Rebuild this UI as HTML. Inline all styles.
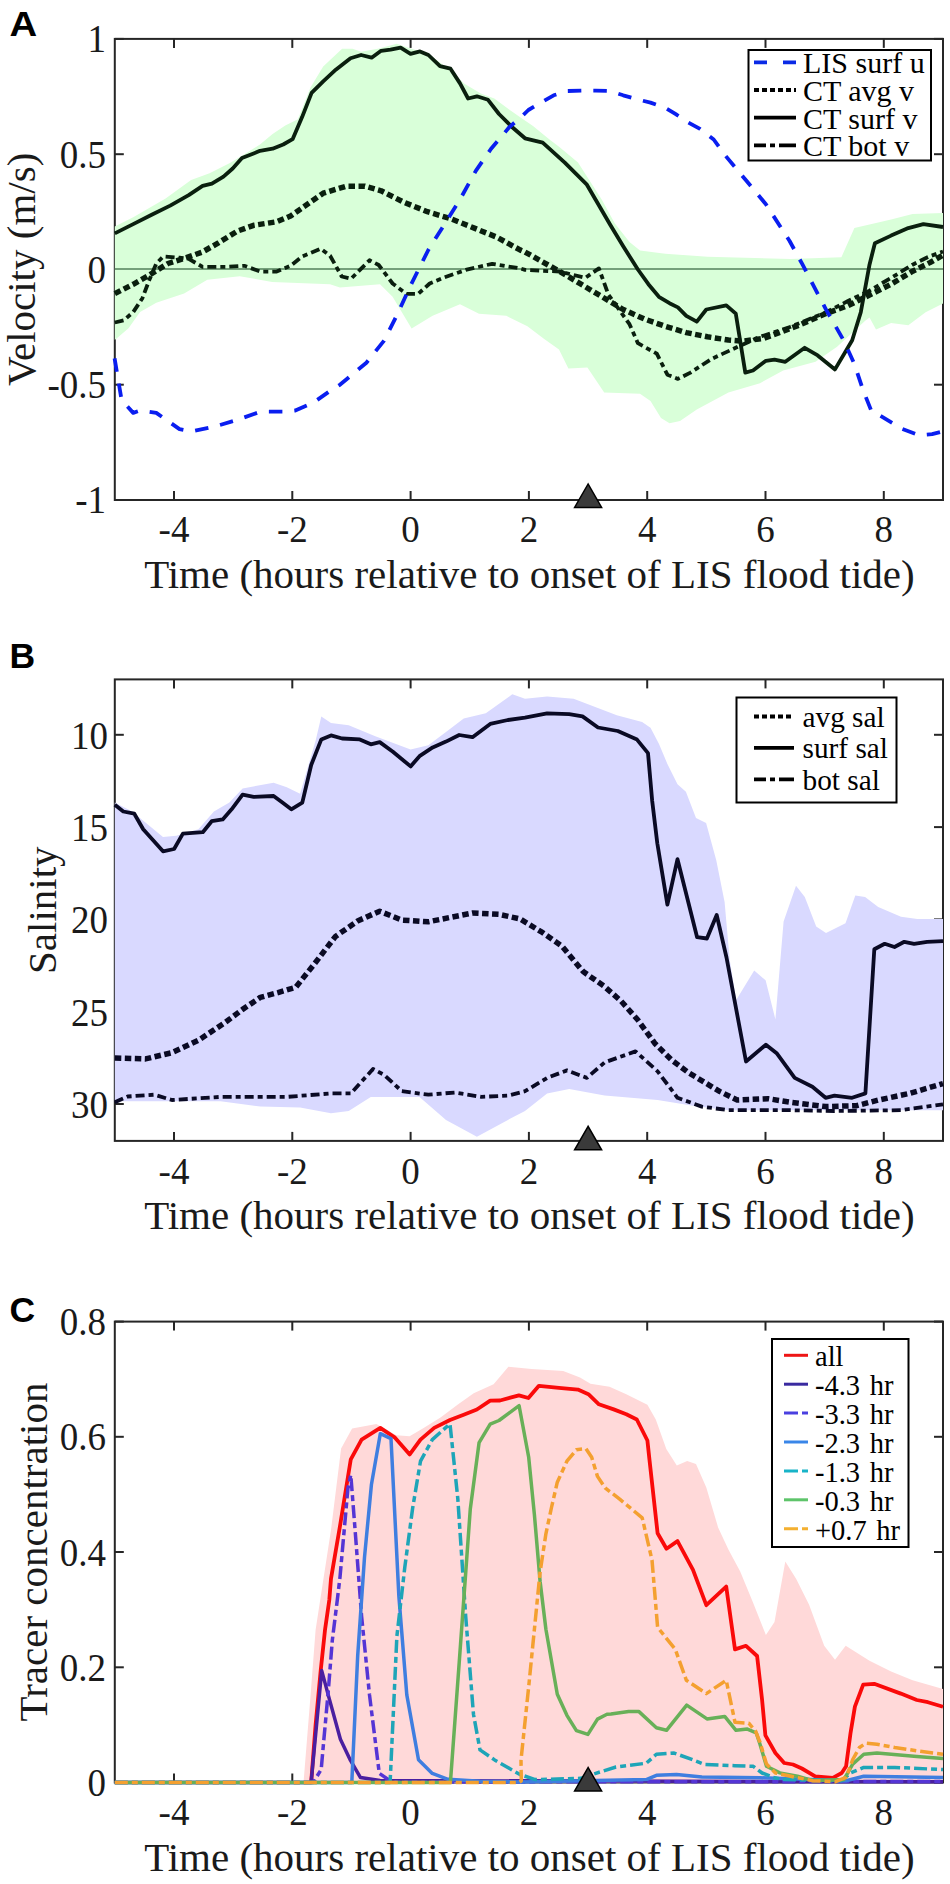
<!DOCTYPE html>
<html><head><meta charset="utf-8"><style>
html,body{margin:0;padding:0;background:#fff;width:950px;height:1884px;overflow:hidden}
svg{display:block}
</style></head><body>
<svg width="950" height="1884" viewBox="0 0 950 1884">
<rect width="950" height="1884" fill="#fff"/>
<line x1="174.0" y1="500.0" x2="174.0" y2="491.0" stroke="#262626" stroke-width="2"/>
<line x1="174.0" y1="38.9" x2="174.0" y2="47.9" stroke="#262626" stroke-width="2"/>
<text transform="translate(174.0,542.1) scale(1,1.04)" x="0" y="0" font-family='"Liberation Serif", serif' font-size="37" text-anchor="middle" fill="#1a1a1a">-4</text>
<line x1="292.3" y1="500.0" x2="292.3" y2="491.0" stroke="#262626" stroke-width="2"/>
<line x1="292.3" y1="38.9" x2="292.3" y2="47.9" stroke="#262626" stroke-width="2"/>
<text transform="translate(292.3,542.1) scale(1,1.04)" x="0" y="0" font-family='"Liberation Serif", serif' font-size="37" text-anchor="middle" fill="#1a1a1a">-2</text>
<line x1="410.6" y1="500.0" x2="410.6" y2="491.0" stroke="#262626" stroke-width="2"/>
<line x1="410.6" y1="38.9" x2="410.6" y2="47.9" stroke="#262626" stroke-width="2"/>
<text transform="translate(410.6,542.1) scale(1,1.04)" x="0" y="0" font-family='"Liberation Serif", serif' font-size="37" text-anchor="middle" fill="#1a1a1a">0</text>
<line x1="528.9" y1="500.0" x2="528.9" y2="491.0" stroke="#262626" stroke-width="2"/>
<line x1="528.9" y1="38.9" x2="528.9" y2="47.9" stroke="#262626" stroke-width="2"/>
<text transform="translate(528.9,542.1) scale(1,1.04)" x="0" y="0" font-family='"Liberation Serif", serif' font-size="37" text-anchor="middle" fill="#1a1a1a">2</text>
<line x1="647.2" y1="500.0" x2="647.2" y2="491.0" stroke="#262626" stroke-width="2"/>
<line x1="647.2" y1="38.9" x2="647.2" y2="47.9" stroke="#262626" stroke-width="2"/>
<text transform="translate(647.2,542.1) scale(1,1.04)" x="0" y="0" font-family='"Liberation Serif", serif' font-size="37" text-anchor="middle" fill="#1a1a1a">4</text>
<line x1="765.5" y1="500.0" x2="765.5" y2="491.0" stroke="#262626" stroke-width="2"/>
<line x1="765.5" y1="38.9" x2="765.5" y2="47.9" stroke="#262626" stroke-width="2"/>
<text transform="translate(765.5,542.1) scale(1,1.04)" x="0" y="0" font-family='"Liberation Serif", serif' font-size="37" text-anchor="middle" fill="#1a1a1a">6</text>
<line x1="883.8" y1="500.0" x2="883.8" y2="491.0" stroke="#262626" stroke-width="2"/>
<line x1="883.8" y1="38.9" x2="883.8" y2="47.9" stroke="#262626" stroke-width="2"/>
<text transform="translate(883.8,542.1) scale(1,1.04)" x="0" y="0" font-family='"Liberation Serif", serif' font-size="37" text-anchor="middle" fill="#1a1a1a">8</text>
<line x1="114.8" y1="38.9" x2="123.8" y2="38.9" stroke="#262626" stroke-width="2"/>
<line x1="943.0" y1="38.9" x2="934.0" y2="38.9" stroke="#262626" stroke-width="2"/>
<text transform="translate(106,52.3) scale(1,1.06)" x="0" y="0" font-family='"Liberation Serif", serif' font-size="37" text-anchor="end" fill="#1a1a1a">1</text>
<line x1="114.8" y1="154.2" x2="123.8" y2="154.2" stroke="#262626" stroke-width="2"/>
<line x1="943.0" y1="154.2" x2="934.0" y2="154.2" stroke="#262626" stroke-width="2"/>
<text transform="translate(106,167.6) scale(1,1.06)" x="0" y="0" font-family='"Liberation Serif", serif' font-size="37" text-anchor="end" fill="#1a1a1a">0.5</text>
<line x1="114.8" y1="269.4" x2="123.8" y2="269.4" stroke="#262626" stroke-width="2"/>
<line x1="943.0" y1="269.4" x2="934.0" y2="269.4" stroke="#262626" stroke-width="2"/>
<text transform="translate(106,282.8) scale(1,1.06)" x="0" y="0" font-family='"Liberation Serif", serif' font-size="37" text-anchor="end" fill="#1a1a1a">0</text>
<line x1="114.8" y1="384.7" x2="123.8" y2="384.7" stroke="#262626" stroke-width="2"/>
<line x1="943.0" y1="384.7" x2="934.0" y2="384.7" stroke="#262626" stroke-width="2"/>
<text transform="translate(106,398.1) scale(1,1.06)" x="0" y="0" font-family='"Liberation Serif", serif' font-size="37" text-anchor="end" fill="#1a1a1a">-0.5</text>
<line x1="114.8" y1="500.0" x2="123.8" y2="500.0" stroke="#262626" stroke-width="2"/>
<line x1="943.0" y1="500.0" x2="934.0" y2="500.0" stroke="#262626" stroke-width="2"/>
<text transform="translate(106,513.4) scale(1,1.06)" x="0" y="0" font-family='"Liberation Serif", serif' font-size="37" text-anchor="end" fill="#1a1a1a">-1</text>
<rect x="114.8" y="38.9" width="828.2" height="461.1" fill="none" stroke="#262626" stroke-width="2"/>
<text x="529.4" y="588" font-family='"Liberation Serif", serif' font-size="41" text-anchor="middle" fill="#1a1a1a">Time (hours relative to onset of LIS flood tide)</text>
<text transform="translate(35,269.4) rotate(-90)" x="0" y="0" font-family='"Liberation Serif", serif' font-size="41" text-anchor="middle" fill="#1a1a1a">Velocity (m/s)</text>
<text transform="translate(9.6,36.3) scale(1.08,1)" x="0" y="0" font-family='"Liberation Sans", sans-serif' font-weight="700" font-size="35.5" fill="#000">A</text>
<polygon points="114.8,226.4 133.2,217.2 165.6,198.6 191.1,180.1 209.6,173.2 230.4,162.7 242.0,155.8 260.0,144.5 272.6,134.0 285.3,125.5 297.9,119.2 310.5,87.6 323.2,66.6 342.1,48.7 352.6,48.7 361.1,51.8 377.9,48.7 396.8,43.8 407.4,47.6 428.4,54.0 445.3,66.6 460.0,79.2 464.0,83.4 480.8,93.5 494.3,98.5 507.8,108.6 521.3,118.0 533.0,126.0 549.5,139.5 560.0,147.4 578.0,162.6 602.0,200.0 614.7,223.2 629.5,242.1 640.0,250.5 665.3,253.7 707.4,256.8 790.3,259.0 841.4,257.2 854.4,228.1 891.1,219.4 912.6,214.0 943.0,213.0 943.0,303.6 925.6,312.2 908.3,325.2 891.1,323.0 876.0,329.5 869.5,317.6 865.2,320.8 837.1,346.7 815.5,361.8 783.2,370.5 760.0,383.2 728.4,392.6 696.8,409.5 680.0,421.0 669.5,423.2 661.0,417.9 650.5,401.1 640.0,393.7 604.2,392.6 587.4,367.4 568.4,368.4 559.0,349.5 544.2,339.0 527.4,326.3 506.3,315.8 479.0,313.7 460.0,304.2 432.6,315.8 411.6,328.4 392.6,296.8 380.0,284.2 339.9,287.6 330.0,284.3 272.1,282.0 239.7,276.2 207.3,279.7 184.1,293.6 156.3,302.8 140.1,312.1 128.5,328.3 114.8,339.9" fill="#d9ffd9" stroke="none"/>
<line x1="114.8" y1="269" x2="943.0" y2="269" stroke="#52805a" stroke-width="1.5"/>
<polyline points="114.8,322.5 123.9,320.2 133.2,312.1 142.4,298.2 149.4,279.7 156.3,263.5 163.3,256.5 179.5,257.7 188.7,258.8 202.6,266.9 225.8,266.9 244.3,265.8 260.5,271.6 276.7,271.6 290.6,265.8 302.2,256.5 320.8,248.7 330.1,255.7 341.7,276.5 351.0,278.8 369.5,260.3 378.7,265.0 392.6,283.5 406.5,293.9 418.1,293.9 429.7,283.5 443.6,277.7 466.7,269.6 492.2,263.8 520.0,268.4 525.0,269.9 560.0,271.6 572.6,274.7 585.3,277.9 598.9,268.4 608.4,294.7 619.0,309.5 629.5,324.2 637.9,343.2 656.8,353.7 667.4,374.7 677.9,378.9 690.5,372.6 711.6,358.9 741.1,345.3 760.0,336.8 790.0,327.0 826.3,312.2 848.0,301.0 869.5,290.6 891.0,278.0 912.6,264.7 928.0,257.0 943.0,251.5" fill="none" stroke="#0a1f0e" stroke-width="3.8" stroke-linejoin="round" stroke-linecap="butt" stroke-dasharray="9,4,5,4"/>
<polyline points="114.8,293.6 133.2,284.3 149.4,275.1 167.9,263.5 186.4,257.7 202.6,251.9 218.8,242.6 237.4,231.1 253.6,225.3 276.7,221.8 290.6,216.0 300.0,209.4 323.2,193.2 346.3,186.2 364.8,186.2 381.1,190.8 404.2,202.4 427.4,211.7 450.5,218.6 473.7,227.9 496.9,237.2 520.0,249.9 525.0,252.0 560.0,271.6 581.0,284.2 602.1,296.8 623.2,309.5 644.2,318.9 665.3,326.3 686.3,332.6 707.4,336.8 728.4,340.0 743.2,341.1 763.7,338.4 799.1,325.2 826.0,313.5 847.9,305.7 869.5,295.0 891.1,284.2 912.6,271.2 929.9,262.6 943.0,255.0" fill="none" stroke="#0a1f0e" stroke-width="5.5" stroke-linejoin="round" stroke-linecap="butt" stroke-dasharray="6.5,3.5"/>
<polyline points="114.8,233.4 133.2,224.1 151.7,214.8 170.2,205.6 188.7,195.2 202.6,185.9 211.9,183.6 223.5,176.6 232.7,168.5 242.0,158.1 253.6,153.5 260.0,150.8 272.6,148.7 283.2,144.5 292.6,139.2 302.1,117.1 311.6,92.9 323.2,81.3 335.8,69.7 350.5,58.2 361.1,55.0 371.6,57.7 381.1,50.8 390.5,49.7 400.6,47.6 410.5,53.9 420.0,51.4 428.4,55.0 440.0,66.2 450.5,68.7 460.0,83.4 468.1,98.5 476.9,96.3 488.0,99.8 499.0,114.0 512.3,127.3 525.0,138.3 542.7,142.7 564.8,162.6 586.9,184.7 595.8,200.0 610.5,225.3 623.2,246.3 637.9,269.5 648.4,284.2 658.9,296.8 669.5,303.2 677.9,307.4 686.3,315.8 696.8,321.7 706.3,309.5 726.3,305.3 735.8,313.7 745.3,372.6 753.0,370.5 765.9,360.8 774.5,359.7 785.3,361.8 804.7,347.8 817.7,355.4 835.0,369.4 852.2,340.3 860.8,312.2 869.5,264.7 874.9,243.2 891.1,235.6 908.3,228.1 923.4,224.2 943.0,227.0" fill="none" stroke="#0a1f0e" stroke-width="3.8" stroke-linejoin="round" stroke-linecap="butt"/>
<polyline points="114.6,358.4 121.6,400.1 133.2,412.9 140.1,410.5 156.3,412.9 167.9,421.0 179.5,429.1 191.1,431.4 214.2,426.7 237.4,419.8 260.5,411.7 283.7,411.7 295.3,410.5 313.8,402.4 330.0,390.9 339.9,384.8 366.4,362.7 384.1,340.6 397.4,314.1 410.6,285.4 428.3,250.0 444.0,225.0 459.8,199.9 475.8,170.9 490.9,149.0 509.4,127.1 521.2,117.0 528.4,110.0 541.0,102.6 553.7,95.3 567.4,91.0 582.1,90.6 595.8,90.6 609.5,91.0 623.2,95.3 637.9,99.5 650.5,102.6 665.3,107.9 675.8,114.2 688.4,122.6 700.0,128.9 713.7,139.5 723.9,153.8 746.0,180.3 765.9,204.3 789.6,241.0 802.6,264.7 826.3,310.1 843.6,340.3 854.4,364.0 863.0,389.9 871.6,411.5 880.3,415.8 901.8,428.7 919.1,435.2 932.1,434.1 943.0,431.3" fill="none" stroke="#0a1ef0" stroke-width="3.8" stroke-linejoin="round" stroke-linecap="butt" stroke-dasharray="13.5,12"/>
<polygon points="588.1,484 574.6,507.5 601.6,507.5" fill="#3a3a3a" stroke="#000" stroke-width="1.5" stroke-linejoin="miter"/>
<rect x="748.5" y="50" width="182.5" height="110.5" fill="#fff" stroke="#000" stroke-width="2"/>
<line x1="754" y1="62.3" x2="796" y2="62.3" stroke="#0a2ae6" stroke-width="3.8" stroke-dasharray="13,16,13"/>
<text x="803" y="73.3" font-family='"Liberation Serif", serif' font-size="30" fill="#000">LIS surf u</text>
<line x1="754" y1="90.0" x2="796" y2="90.0" stroke="#000" stroke-width="4" stroke-dasharray="5,3"/>
<text x="803" y="101.0" font-family='"Liberation Serif", serif' font-size="30" fill="#000">CT avg v</text>
<line x1="754" y1="117.7" x2="796" y2="117.7" stroke="#000" stroke-width="3.8"/>
<text x="803" y="128.7" font-family='"Liberation Serif", serif' font-size="30" fill="#000">CT surf v</text>
<line x1="754" y1="145.4" x2="796" y2="145.4" stroke="#000" stroke-width="3.8" stroke-dasharray="12,4,5,4,17"/>
<text x="803" y="156.4" font-family='"Liberation Serif", serif' font-size="30" fill="#000">CT bot v</text>
<line x1="174.0" y1="1140.9" x2="174.0" y2="1131.9" stroke="#262626" stroke-width="2"/>
<line x1="174.0" y1="679.4" x2="174.0" y2="688.4" stroke="#262626" stroke-width="2"/>
<text transform="translate(174.0,1184.1) scale(1,1.04)" x="0" y="0" font-family='"Liberation Serif", serif' font-size="37" text-anchor="middle" fill="#1a1a1a">-4</text>
<line x1="292.3" y1="1140.9" x2="292.3" y2="1131.9" stroke="#262626" stroke-width="2"/>
<line x1="292.3" y1="679.4" x2="292.3" y2="688.4" stroke="#262626" stroke-width="2"/>
<text transform="translate(292.3,1184.1) scale(1,1.04)" x="0" y="0" font-family='"Liberation Serif", serif' font-size="37" text-anchor="middle" fill="#1a1a1a">-2</text>
<line x1="410.6" y1="1140.9" x2="410.6" y2="1131.9" stroke="#262626" stroke-width="2"/>
<line x1="410.6" y1="679.4" x2="410.6" y2="688.4" stroke="#262626" stroke-width="2"/>
<text transform="translate(410.6,1184.1) scale(1,1.04)" x="0" y="0" font-family='"Liberation Serif", serif' font-size="37" text-anchor="middle" fill="#1a1a1a">0</text>
<line x1="528.9" y1="1140.9" x2="528.9" y2="1131.9" stroke="#262626" stroke-width="2"/>
<line x1="528.9" y1="679.4" x2="528.9" y2="688.4" stroke="#262626" stroke-width="2"/>
<text transform="translate(528.9,1184.1) scale(1,1.04)" x="0" y="0" font-family='"Liberation Serif", serif' font-size="37" text-anchor="middle" fill="#1a1a1a">2</text>
<line x1="647.2" y1="1140.9" x2="647.2" y2="1131.9" stroke="#262626" stroke-width="2"/>
<line x1="647.2" y1="679.4" x2="647.2" y2="688.4" stroke="#262626" stroke-width="2"/>
<text transform="translate(647.2,1184.1) scale(1,1.04)" x="0" y="0" font-family='"Liberation Serif", serif' font-size="37" text-anchor="middle" fill="#1a1a1a">4</text>
<line x1="765.5" y1="1140.9" x2="765.5" y2="1131.9" stroke="#262626" stroke-width="2"/>
<line x1="765.5" y1="679.4" x2="765.5" y2="688.4" stroke="#262626" stroke-width="2"/>
<text transform="translate(765.5,1184.1) scale(1,1.04)" x="0" y="0" font-family='"Liberation Serif", serif' font-size="37" text-anchor="middle" fill="#1a1a1a">6</text>
<line x1="883.8" y1="1140.9" x2="883.8" y2="1131.9" stroke="#262626" stroke-width="2"/>
<line x1="883.8" y1="679.4" x2="883.8" y2="688.4" stroke="#262626" stroke-width="2"/>
<text transform="translate(883.8,1184.1) scale(1,1.04)" x="0" y="0" font-family='"Liberation Serif", serif' font-size="37" text-anchor="middle" fill="#1a1a1a">8</text>
<line x1="114.8" y1="734.8" x2="123.8" y2="734.8" stroke="#262626" stroke-width="2"/>
<line x1="943.0" y1="734.8" x2="934.0" y2="734.8" stroke="#262626" stroke-width="2"/>
<text transform="translate(108,748.8) scale(1,1.06)" x="0" y="0" font-family='"Liberation Serif", serif' font-size="37" text-anchor="end" fill="#1a1a1a">10</text>
<line x1="114.8" y1="827.1" x2="123.8" y2="827.1" stroke="#262626" stroke-width="2"/>
<line x1="943.0" y1="827.1" x2="934.0" y2="827.1" stroke="#262626" stroke-width="2"/>
<text transform="translate(108,841.1) scale(1,1.06)" x="0" y="0" font-family='"Liberation Serif", serif' font-size="37" text-anchor="end" fill="#1a1a1a">15</text>
<line x1="114.8" y1="919.4" x2="123.8" y2="919.4" stroke="#262626" stroke-width="2"/>
<line x1="943.0" y1="919.4" x2="934.0" y2="919.4" stroke="#262626" stroke-width="2"/>
<text transform="translate(108,933.4) scale(1,1.06)" x="0" y="0" font-family='"Liberation Serif", serif' font-size="37" text-anchor="end" fill="#1a1a1a">20</text>
<line x1="114.8" y1="1011.7" x2="123.8" y2="1011.7" stroke="#262626" stroke-width="2"/>
<line x1="943.0" y1="1011.7" x2="934.0" y2="1011.7" stroke="#262626" stroke-width="2"/>
<text transform="translate(108,1025.7) scale(1,1.06)" x="0" y="0" font-family='"Liberation Serif", serif' font-size="37" text-anchor="end" fill="#1a1a1a">25</text>
<line x1="114.8" y1="1104.0" x2="123.8" y2="1104.0" stroke="#262626" stroke-width="2"/>
<line x1="943.0" y1="1104.0" x2="934.0" y2="1104.0" stroke="#262626" stroke-width="2"/>
<text transform="translate(108,1118.0) scale(1,1.06)" x="0" y="0" font-family='"Liberation Serif", serif' font-size="37" text-anchor="end" fill="#1a1a1a">30</text>
<rect x="114.8" y="679.4" width="828.2" height="461.5000000000001" fill="none" stroke="#262626" stroke-width="2"/>
<text x="529.4" y="1229" font-family='"Liberation Serif", serif' font-size="41" text-anchor="middle" fill="#1a1a1a">Time (hours relative to onset of LIS flood tide)</text>
<text transform="translate(56,910.2) rotate(-90)" x="0" y="0" font-family='"Liberation Serif", serif' font-size="41" text-anchor="middle" fill="#1a1a1a">Salinity</text>
<text transform="translate(9.6,668) scale(1.0,1)" x="0" y="0" font-family='"Liberation Sans", sans-serif' font-weight="700" font-size="35.5" fill="#000">B</text>
<polygon points="114.8,802.6 132.1,811.5 145.4,822.5 163.0,837.1 176.3,835.8 198.4,829.2 213.9,811.5 229.4,802.6 242.6,788.5 273.6,782.7 286.8,787.2 300.1,793.8 315.6,740.7 321.3,716.4 331.0,723.0 348.7,725.3 375.3,736.3 410.6,749.6 428.3,745.2 446.0,731.9 463.7,718.6 485.8,713.3 512.3,694.3 525.0,698.7 547.1,696.5 573.6,698.7 591.3,705.4 616.8,715.2 642.1,721.9 650.5,727.8 658.9,743.8 667.4,764.0 677.5,784.2 685.9,791.8 696.0,817.9 706.1,823.0 716.2,860.0 724.6,902.1 729.7,960.0 736.2,999.9 754.2,970.5 765.6,980.3 775.4,1019.4 783.6,921.6 796.0,885.7 804.8,897.1 816.2,926.5 826.0,933.0 845.5,923.2 855.3,895.5 865.1,897.1 878.2,906.9 901.0,916.7 917.3,919.0 943.0,919.0 943.0,1110.2 728.4,1110.2 693.0,1105.7 657.6,1100.0 604.6,1095.6 569.2,1088.9 547.1,1093.4 525.0,1111.0 507.9,1119.9 476.9,1136.7 446.0,1119.9 419.5,1096.9 370.8,1096.9 348.7,1111.0 331.0,1113.3 300.1,1107.5 260.3,1106.6 220.5,1101.3 114.8,1101.3" fill="#d9d9ff" stroke="none"/>
<polyline points="114.8,1102.2 127.7,1096.5 154.2,1094.7 171.9,1100.0 220.5,1096.9 286.8,1096.9 331.0,1093.4 350.9,1093.4 373.0,1069.0 384.1,1074.8 401.8,1091.2 428.3,1094.7 454.8,1092.5 481.4,1096.9 507.9,1095.6 525.0,1091.2 547.1,1077.9 567.0,1070.4 586.9,1077.9 604.6,1062.4 635.5,1051.4 657.6,1071.3 677.5,1097.8 701.8,1106.6 728.4,1110.2 790.3,1110.2 834.5,1111.0 900.8,1110.2 943.0,1104.4" fill="none" stroke="#0a0a24" stroke-width="3.8" stroke-linejoin="round" stroke-linecap="butt" stroke-dasharray="9,4,5,4"/>
<polyline points="114.8,1058.0 145.4,1058.9 171.9,1052.7 198.4,1040.3 225.0,1022.6 242.6,1009.4 260.3,997.4 278.0,992.6 295.7,987.3 313.4,965.2 335.5,936.4 357.6,920.9 379.7,911.2 401.8,920.1 428.3,921.8 450.4,917.4 472.5,913.0 499.0,914.3 520.0,918.9 541.0,931.6 562.1,946.3 583.2,971.6 604.2,986.3 621.1,1001.1 637.9,1020.0 654.7,1043.2 671.6,1060.0 688.4,1072.6 709.5,1085.3 720.0,1091.6 737.2,1100.0 768.1,1098.7 790.3,1102.2 825.6,1106.6 856.6,1105.7 878.7,1100.0 909.6,1093.4 943.0,1083.6" fill="none" stroke="#0a0a24" stroke-width="5.5" stroke-linejoin="round" stroke-linecap="butt" stroke-dasharray="6.5,3.5"/>
<polyline points="114.8,804.8 123.3,811.5 134.3,813.7 143.2,829.2 163.0,851.3 174.1,849.0 182.9,833.6 202.8,832.2 211.7,821.2 222.7,819.4 231.6,809.3 242.6,794.7 253.7,796.9 273.6,796.0 282.4,802.6 291.3,809.3 302.3,802.6 311.2,765.0 321.3,739.4 331.0,735.4 342.1,738.5 359.8,739.4 370.8,744.3 379.7,742.1 392.9,751.8 410.6,766.4 419.5,756.2 432.7,747.4 446.0,741.6 459.2,735.0 472.5,737.2 490.2,723.9 507.9,720.0 525.0,717.7 547.1,713.3 569.2,714.2 582.5,716.4 598.0,727.5 617.8,731.0 637.0,739.6 648.0,753.1 652.2,801.0 657.3,843.2 667.4,904.6 677.5,859.2 697.1,937.2 706.9,938.5 716.7,915.0 726.5,957.5 746.0,1061.5 765.9,1044.7 777.0,1053.6 794.7,1077.9 812.4,1086.7 825.6,1097.8 834.5,1095.6 852.1,1097.8 865.4,1093.4 874.3,949.3 884.7,943.8 894.5,947.0 904.3,941.8 914.1,943.8 927.1,941.8 943.0,941.1" fill="none" stroke="#0a0a24" stroke-width="3.8" stroke-linejoin="round" stroke-linecap="butt"/>
<polygon points="588.1,1126.3 574.6,1149.8 601.6,1149.8" fill="#3a3a3a" stroke="#000" stroke-width="1.5" stroke-linejoin="miter"/>
<rect x="736.5" y="697.5" width="160" height="105" fill="#fff" stroke="#000" stroke-width="2"/>
<line x1="754" y1="716.5" x2="794" y2="716.5" stroke="#000" stroke-width="4" stroke-dasharray="5,3"/>
<text x="802.5" y="727.0" font-family='"Liberation Serif", serif' font-size="29.3" fill="#000">avg sal</text>
<line x1="754" y1="747.9" x2="794" y2="747.9" stroke="#000" stroke-width="3.8"/>
<text x="802.5" y="758.4" font-family='"Liberation Serif", serif' font-size="29.3" fill="#000">surf sal</text>
<line x1="754" y1="779.3" x2="794" y2="779.3" stroke="#000" stroke-width="3.8" stroke-dasharray="12,4,5,4,17"/>
<text x="802.5" y="789.8" font-family='"Liberation Serif", serif' font-size="29.3" fill="#000">bot sal</text>
<line x1="174.0" y1="1782.5" x2="174.0" y2="1773.5" stroke="#262626" stroke-width="2"/>
<line x1="174.0" y1="1321.6" x2="174.0" y2="1330.6" stroke="#262626" stroke-width="2"/>
<text transform="translate(174.0,1825.3) scale(1,1.04)" x="0" y="0" font-family='"Liberation Serif", serif' font-size="37" text-anchor="middle" fill="#1a1a1a">-4</text>
<line x1="292.3" y1="1782.5" x2="292.3" y2="1773.5" stroke="#262626" stroke-width="2"/>
<line x1="292.3" y1="1321.6" x2="292.3" y2="1330.6" stroke="#262626" stroke-width="2"/>
<text transform="translate(292.3,1825.3) scale(1,1.04)" x="0" y="0" font-family='"Liberation Serif", serif' font-size="37" text-anchor="middle" fill="#1a1a1a">-2</text>
<line x1="410.6" y1="1782.5" x2="410.6" y2="1773.5" stroke="#262626" stroke-width="2"/>
<line x1="410.6" y1="1321.6" x2="410.6" y2="1330.6" stroke="#262626" stroke-width="2"/>
<text transform="translate(410.6,1825.3) scale(1,1.04)" x="0" y="0" font-family='"Liberation Serif", serif' font-size="37" text-anchor="middle" fill="#1a1a1a">0</text>
<line x1="528.9" y1="1782.5" x2="528.9" y2="1773.5" stroke="#262626" stroke-width="2"/>
<line x1="528.9" y1="1321.6" x2="528.9" y2="1330.6" stroke="#262626" stroke-width="2"/>
<text transform="translate(528.9,1825.3) scale(1,1.04)" x="0" y="0" font-family='"Liberation Serif", serif' font-size="37" text-anchor="middle" fill="#1a1a1a">2</text>
<line x1="647.2" y1="1782.5" x2="647.2" y2="1773.5" stroke="#262626" stroke-width="2"/>
<line x1="647.2" y1="1321.6" x2="647.2" y2="1330.6" stroke="#262626" stroke-width="2"/>
<text transform="translate(647.2,1825.3) scale(1,1.04)" x="0" y="0" font-family='"Liberation Serif", serif' font-size="37" text-anchor="middle" fill="#1a1a1a">4</text>
<line x1="765.5" y1="1782.5" x2="765.5" y2="1773.5" stroke="#262626" stroke-width="2"/>
<line x1="765.5" y1="1321.6" x2="765.5" y2="1330.6" stroke="#262626" stroke-width="2"/>
<text transform="translate(765.5,1825.3) scale(1,1.04)" x="0" y="0" font-family='"Liberation Serif", serif' font-size="37" text-anchor="middle" fill="#1a1a1a">6</text>
<line x1="883.8" y1="1782.5" x2="883.8" y2="1773.5" stroke="#262626" stroke-width="2"/>
<line x1="883.8" y1="1321.6" x2="883.8" y2="1330.6" stroke="#262626" stroke-width="2"/>
<text transform="translate(883.8,1825.3) scale(1,1.04)" x="0" y="0" font-family='"Liberation Serif", serif' font-size="37" text-anchor="middle" fill="#1a1a1a">8</text>
<line x1="114.8" y1="1782.5" x2="123.8" y2="1782.5" stroke="#262626" stroke-width="2"/>
<line x1="943.0" y1="1782.5" x2="934.0" y2="1782.5" stroke="#262626" stroke-width="2"/>
<text transform="translate(106,1795.9) scale(1,1.06)" x="0" y="0" font-family='"Liberation Serif", serif' font-size="37" text-anchor="end" fill="#1a1a1a">0</text>
<line x1="114.8" y1="1667.3" x2="123.8" y2="1667.3" stroke="#262626" stroke-width="2"/>
<line x1="943.0" y1="1667.3" x2="934.0" y2="1667.3" stroke="#262626" stroke-width="2"/>
<text transform="translate(106,1680.7) scale(1,1.06)" x="0" y="0" font-family='"Liberation Serif", serif' font-size="37" text-anchor="end" fill="#1a1a1a">0.2</text>
<line x1="114.8" y1="1552.0" x2="123.8" y2="1552.0" stroke="#262626" stroke-width="2"/>
<line x1="943.0" y1="1552.0" x2="934.0" y2="1552.0" stroke="#262626" stroke-width="2"/>
<text transform="translate(106,1565.5) scale(1,1.06)" x="0" y="0" font-family='"Liberation Serif", serif' font-size="37" text-anchor="end" fill="#1a1a1a">0.4</text>
<line x1="114.8" y1="1436.8" x2="123.8" y2="1436.8" stroke="#262626" stroke-width="2"/>
<line x1="943.0" y1="1436.8" x2="934.0" y2="1436.8" stroke="#262626" stroke-width="2"/>
<text transform="translate(106,1450.2) scale(1,1.06)" x="0" y="0" font-family='"Liberation Serif", serif' font-size="37" text-anchor="end" fill="#1a1a1a">0.6</text>
<line x1="114.8" y1="1321.6" x2="123.8" y2="1321.6" stroke="#262626" stroke-width="2"/>
<line x1="943.0" y1="1321.6" x2="934.0" y2="1321.6" stroke="#262626" stroke-width="2"/>
<text transform="translate(106,1335.0) scale(1,1.06)" x="0" y="0" font-family='"Liberation Serif", serif' font-size="37" text-anchor="end" fill="#1a1a1a">0.8</text>
<rect x="114.8" y="1321.6" width="828.2" height="460.9000000000001" fill="none" stroke="#262626" stroke-width="2"/>
<text x="529.4" y="1870.5" font-family='"Liberation Serif", serif' font-size="41" text-anchor="middle" fill="#1a1a1a">Time (hours relative to onset of LIS flood tide)</text>
<text transform="translate(46.5,1552.0) rotate(-90)" x="0" y="0" font-family='"Liberation Serif", serif' font-size="41" text-anchor="middle" fill="#1a1a1a">Tracer concentration</text>
<text transform="translate(9.6,1322) scale(1.0,1)" x="0" y="0" font-family='"Liberation Sans", sans-serif' font-weight="700" font-size="35.5" fill="#000">C</text>
<polygon points="303.5,1782.9 310.1,1700.9 315.6,1630.0 320.2,1600.0 331.0,1530.0 341.1,1448.4 352.1,1428.5 376.4,1424.1 396.3,1435.2 409.6,1436.3 422.8,1428.5 440.5,1417.5 458.2,1404.2 473.7,1393.2 493.6,1384.3 508.4,1366.8 531.6,1369.0 563.2,1371.0 580.0,1377.4 590.5,1383.7 609.5,1386.8 626.3,1394.2 647.4,1404.7 655.8,1419.5 666.3,1449.0 676.8,1465.5 687.2,1461.0 696.0,1464.0 706.3,1487.6 713.7,1512.6 718.1,1527.4 728.4,1549.5 740.2,1571.6 753.0,1602.6 765.9,1635.0 774.5,1622.0 785.3,1561.6 796.1,1578.8 809.1,1604.7 824.2,1645.7 835.0,1659.8 845.7,1645.7 869.5,1660.8 891.1,1671.6 912.6,1680.3 943.0,1688.9 943.0,1782.9 304.5,1782.9" fill="#ffd9d9" stroke="none"/>
<polyline points="311.2,1782.0 315.6,1725.0 320.7,1670.6 325.0,1630.0 329.3,1600.0 331.0,1578.6 340.0,1526.0 350.8,1459.3 361.6,1439.6 380.3,1427.9 395.0,1437.7 409.7,1454.4 420.5,1439.6 434.2,1427.9 450.0,1420.0 463.7,1414.8 476.9,1409.5 490.2,1400.6 500.0,1400.5 518.9,1395.3 528.4,1398.0 538.9,1385.8 558.9,1387.9 577.9,1389.6 588.4,1394.2 598.9,1404.3 613.7,1409.4 626.3,1414.2 636.8,1419.5 647.4,1440.5 649.5,1460.0 657.6,1533.3 666.5,1548.7 677.5,1541.1 693.0,1569.8 706.3,1605.2 726.2,1586.6 735.0,1649.4 746.0,1645.8 757.1,1656.0 762.1,1700.0 765.4,1735.4 775.4,1753.0 784.2,1763.0 793.0,1764.5 801.9,1768.5 815.2,1776.3 832.8,1777.8 841.7,1773.0 846.1,1766.3 850.5,1733.2 854.9,1706.6 863.2,1684.7 874.2,1683.8 900.8,1693.6 916.8,1700.0 927.9,1702.2 943.0,1706.8" fill="none" stroke="#fa0a0a" stroke-width="3.8" stroke-linejoin="round" stroke-linecap="butt"/>
<polyline points="114.8,1782.5 311.1,1782.5 321.7,1670.6 329.3,1698.9 340.4,1739.3 350.5,1760.4 360.5,1777.6 380.0,1780.6 943.0,1781.8" fill="none" stroke="#4a1fa0" stroke-width="3.5" stroke-linejoin="round" stroke-linecap="butt"/>
<polyline points="114.8,1782.5 313.1,1782.5 321.2,1769.5 323.7,1741.3 328.3,1690.8 332.3,1640.4 337.3,1600.0 340.0,1577.1 347.9,1488.7 350.8,1475.0 355.7,1537.8 361.6,1616.3 369.5,1694.9 379.3,1773.4 391.0,1781.3 397.4,1782.0 943.0,1781.5" fill="none" stroke="#5535d5" stroke-width="3.5" stroke-linejoin="round" stroke-linecap="butt" stroke-dasharray="13,4,6,4"/>
<polyline points="114.8,1782.5 351.8,1782.5 357.7,1655.6 364.5,1557.4 371.4,1484.8 380.3,1433.7 391.0,1438.7 398.9,1596.7 406.8,1694.9 418.5,1759.7 432.3,1773.4 448.0,1779.3 480.0,1781.3 520.0,1782.0 646.3,1779.6 656.4,1775.3 676.6,1774.5 701.9,1777.1 760.0,1777.8 846.1,1780.7 863.8,1776.3 943.0,1777.4" fill="none" stroke="#3f7ee0" stroke-width="3.5" stroke-linejoin="round" stroke-linecap="butt"/>
<polyline points="114.8,1782.5 390.1,1782.5 396.9,1636.0 404.8,1567.3 412.6,1508.4 420.5,1461.2 432.3,1439.6 450.0,1423.9 457.8,1498.5 465.7,1616.3 473.5,1714.5 480.0,1749.9 494.6,1759.9 520.0,1774.5 535.2,1779.6 580.6,1778.3 595.8,1773.3 616.0,1767.0 646.3,1763.2 656.4,1754.3 674.1,1753.1 691.8,1759.4 704.4,1764.4 734.8,1765.7 753.3,1766.3 762.1,1773.0 773.2,1777.4 784.2,1779.6 841.7,1780.7 850.5,1773.0 863.8,1767.4 894.7,1767.4 943.0,1769.6" fill="none" stroke="#1ea5b8" stroke-width="3.5" stroke-linejoin="round" stroke-linecap="butt" stroke-dasharray="13,4,6,4"/>
<polyline points="114.8,1782.5 450.4,1782.5 459.2,1662.6 465.9,1570.0 470.3,1508.9 479.1,1442.6 490.2,1424.1 499.0,1420.5 519.1,1405.7 528.7,1457.3 534.4,1514.7 540.1,1581.5 545.9,1629.3 557.3,1694.3 566.9,1715.3 576.4,1730.6 587.9,1734.4 597.5,1719.1 607.0,1714.3 611.0,1714.0 628.6,1711.4 638.7,1711.4 656.4,1727.8 666.5,1730.3 686.7,1705.1 707.0,1718.9 724.7,1716.4 736.0,1730.3 747.4,1729.1 756.2,1732.8 760.0,1744.2 766.5,1766.3 779.8,1772.9 797.5,1776.3 812.9,1780.7 843.9,1779.6 852.7,1764.1 863.8,1754.2 877.0,1753.0 916.8,1756.4 943.0,1758.6" fill="none" stroke="#68b058" stroke-width="3.5" stroke-linejoin="round" stroke-linecap="butt"/>
<polyline points="114.8,1782.5 519.0,1782.5 521.3,1780.8 521.0,1760.0 528.7,1686.6 534.4,1629.3 540.1,1572.0 545.9,1533.8 551.6,1507.0 557.3,1482.2 566.9,1461.2 576.4,1449.7 586.0,1448.7 591.7,1457.3 597.5,1476.4 605.1,1487.9 620.0,1499.4 642.2,1517.8 652.0,1560.0 657.6,1627.3 675.3,1649.4 686.4,1680.3 706.3,1693.6 726.2,1680.3 735.0,1722.3 748.8,1723.2 755.5,1731.0 759.9,1742.0 766.5,1764.1 775.4,1773.0 790.8,1776.3 812.9,1780.7 835.0,1781.8 846.1,1777.4 852.7,1759.7 859.4,1747.5 866.0,1743.1 877.0,1744.2 894.7,1747.5 916.8,1750.8 943.0,1754.2" fill="none" stroke="#f4a030" stroke-width="3.5" stroke-linejoin="round" stroke-linecap="butt" stroke-dasharray="13,4,6,4"/>
<polygon points="588.1,1767.5 574.6,1791.0 601.6,1791.0" fill="#3a3a3a" stroke="#000" stroke-width="1.5" stroke-linejoin="miter"/>
<rect x="772" y="1339" width="136.5" height="208" fill="#fff" stroke="#000" stroke-width="2"/>
<line x1="784" y1="1355.3" x2="808" y2="1355.3" stroke="#ee1515" stroke-width="3"/>
<text x="815" y="1366.3" font-family='"Liberation Serif", serif' font-size="28.5" word-spacing="2.5" fill="#000">all</text>
<line x1="784" y1="1384.2" x2="808" y2="1384.2" stroke="#3a2aa0" stroke-width="3"/>
<text x="815" y="1395.2" font-family='"Liberation Serif", serif' font-size="28.5" word-spacing="2.5" fill="#000">-4.3 hr</text>
<line x1="784" y1="1413.1" x2="808" y2="1413.1" stroke="#4a40e0" stroke-width="3" stroke-dasharray="14,4,6,4"/>
<text x="815" y="1424.1" font-family='"Liberation Serif", serif' font-size="28.5" word-spacing="2.5" fill="#000">-3.3 hr</text>
<line x1="784" y1="1442.0" x2="808" y2="1442.0" stroke="#3a86e8" stroke-width="3"/>
<text x="815" y="1453.0" font-family='"Liberation Serif", serif' font-size="28.5" word-spacing="2.5" fill="#000">-2.3 hr</text>
<line x1="784" y1="1470.9" x2="808" y2="1470.9" stroke="#18b4c8" stroke-width="3" stroke-dasharray="14,4,6,4"/>
<text x="815" y="1481.9" font-family='"Liberation Serif", serif' font-size="28.5" word-spacing="2.5" fill="#000">-1.3 hr</text>
<line x1="784" y1="1499.8" x2="808" y2="1499.8" stroke="#5ec46a" stroke-width="3"/>
<text x="815" y="1510.8" font-family='"Liberation Serif", serif' font-size="28.5" word-spacing="2.5" fill="#000">-0.3 hr</text>
<line x1="784" y1="1528.7" x2="808" y2="1528.7" stroke="#f4b030" stroke-width="3" stroke-dasharray="14,4,6,4"/>
<text x="815" y="1539.7" font-family='"Liberation Serif", serif' font-size="28.5" word-spacing="2.5" fill="#000">+0.7 hr</text>
</svg></body></html>
